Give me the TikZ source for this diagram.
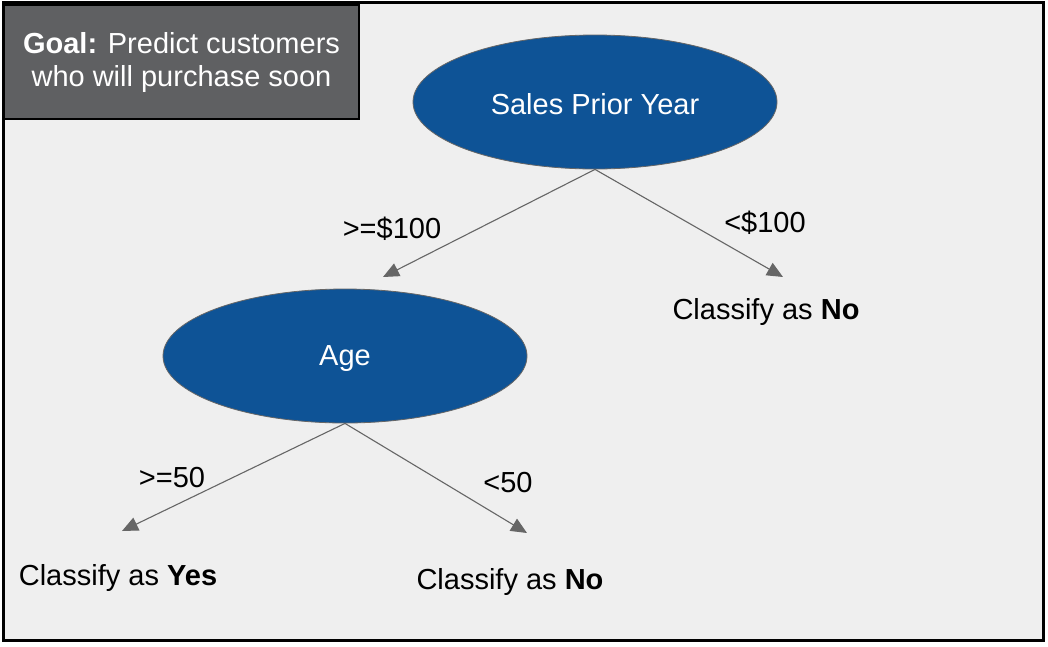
\documentclass[tikz,border=0pt]{standalone}
\usepackage{fontspec}
\setmainfont{Liberation Sans}
\usetikzlibrary{shapes.geometric,arrows.meta}
\definecolor{bgcol}{HTML}{EFEFEF}
\definecolor{goalcol}{HTML}{5F6062}
\definecolor{ellcol}{HTML}{0E5396}
\definecolor{arrcol}{HTML}{666666}
\tikzset{
  decnode/.style={ellipse, fill=ellcol, draw=arrcol, line width=0.8pt, minimum width=364pt, minimum height=134pt},
  ellabel/.style={text=white, font=\fontsize{29}{34}\selectfont, inner sep=0pt},
  txt/.style={font=\fontsize{29}{34}\selectfont, inner sep=0pt},
  leaf/.style={font=\fontsize{29}{34}\selectfont, inner sep=0pt},
  conn/.style={draw=arrcol, line width=1.1pt, -{Triangle[length=16pt,width=14pt]}},
}
\begin{document}
\begin{tikzpicture}[x=1pt,y=-1pt]
\useasboundingbox (0,0) rectangle (1048,646);
\fill[white] (0,0) rectangle (1048,646);
\draw[fill=bgcol, line width=3pt] (3,2) rectangle (1043,640);
\node[draw=black, line width=2pt, fill=goalcol, anchor=north west, minimum width=355pt, minimum height=114pt, text=white, align=center, font=\fontsize{29}{33}\selectfont] (goal) at (3,4) {\textbf{Goal:} Predict customers\\who will purchase soon};
\node[decnode] (spy) at (595,102) {};
\node[decnode] (age) at (345,356) {};
\node[ellabel] at (595,104) {Sales Prior Year};
\node[ellabel] at (345,359) {Age};
\coordinate (a1) at (383,277);
\coordinate (a2) at (783,277);
\coordinate (b1) at (122,531);
\coordinate (b2) at (527,533);
\draw[conn] (spy.south) -- (a1);
\draw[conn] (spy.south) -- (a2);
\draw[conn] (age.south) -- (b1);
\draw[conn] (age.south) -- (b2);
\node[txt] (l1) at (392,229) {>=\$100};
\node[txt] (l2) at (765,223) {<\$100};
\node[txt] (l3) at (172,478) {>=50};
\node[txt] (l4) at (508,483) {<50};
\node[leaf] (n1) at (766,312) {Classify as \textbf{No}};
\node[leaf] (y1) at (118,578) {Classify as \textbf{Yes}};
\node[leaf] (n2) at (510,582) {Classify as \textbf{No}};
\end{tikzpicture}
\end{document}
